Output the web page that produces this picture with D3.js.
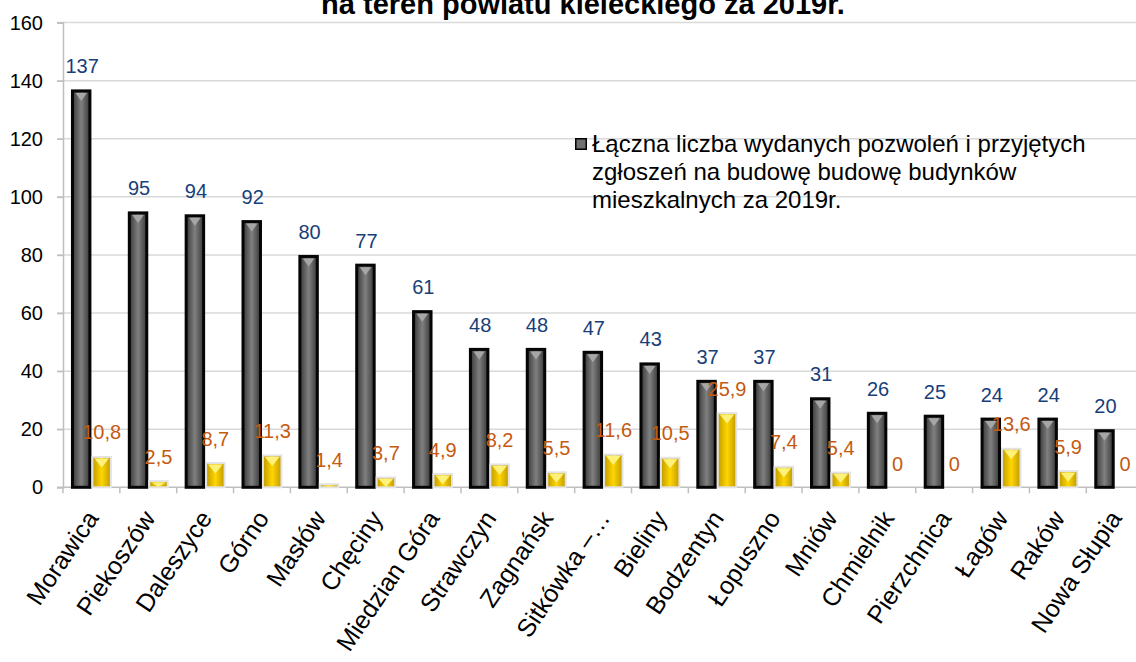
<!DOCTYPE html>
<html>
<head>
<meta charset="utf-8">
<script src="https://cdn.jsdelivr.net/npm/d3@7"></script>
<style>
  body { margin: 0; background: #fff; }
  svg { display: block; font-family: "Liberation Sans", Arial, sans-serif; }
</style>
</head>
<body>
<svg width="1136" height="662"></svg>
<script>
let categories = ["Morawica", "Piekoszów", "Daleszyce", "Górno", "Masłów", "Chęciny",
	"Miedzian Góra", "Strawczyn", "Zagnańsk", "Sitkówka –…", "Bieliny", "Bodzentyn",
	"Łopuszno", "Mniów", "Chmielnik", "Pierzchnica", "Łagów", "Raków", "Nowa Słupia"];
let totals = [137, 95, 94, 92, 80, 77, 61, 48, 48, 47, 43, 37, 37, 31, 26, 25, 24, 24, 20];
let ratios = [10.8, 2.5, 8.7, 11.3, 1.4, 3.7, 4.9, 8.2, 5.5, 11.6, 10.5, 25.9, 7.4, 5.4, 0, 0, 13.6, 5.9, 0];
let yTicks = [0, 20, 40, 60, 80, 100, 120, 140, 160];
let legendLines = ["Łączna liczba wydanych pozwoleń i przyjętych",
	"zgłoszeń na budowę budowę budynków",
	"mieszkalnych za 2019r."];
let titleText = "na teren powiatu kieleckiego za 2019r.";

let data = categories.map((c, i) => ({name: c, total: totals[i], ratio: ratios[i]}));

let svg = d3.select("svg");
let plotLeft = 63, step = 56.85, plotTop = 22.6, plotBottom = 487.3;

let x = d3.scaleBand()
	.domain(categories)
	.range([plotLeft, plotLeft + step * categories.length])
	.paddingInner(0.28)
	.paddingOuter(0.14);

let xs = d3.scaleBand()
	.domain(["total", "ratio"])
	.range([0, x.bandwidth()]);

let y = d3.scaleLinear()
	.domain([0, 160])
	.range([plotBottom, plotTop]);

// gradients
let defs = svg.append("defs");
let g1 = defs.append("linearGradient").attr("id", "darkGrad");
g1.append("stop").attr("offset", "0%").attr("stop-color", "#383838");
g1.append("stop").attr("offset", "50%").attr("stop-color", "#808080");
g1.append("stop").attr("offset", "100%").attr("stop-color", "#383838");
let g2 = defs.append("linearGradient").attr("id", "goldGrad");
g2.append("stop").attr("offset", "0%").attr("stop-color", "#c09a00");
g2.append("stop").attr("offset", "50%").attr("stop-color", "#ffd600");
g2.append("stop").attr("offset", "100%").attr("stop-color", "#c09a00");

// title (upper line cut off by the frame, as in the source)
svg.append("text")
	.attr("x", 583).attr("y", 14)
	.attr("text-anchor", "middle")
	.attr("font-size", 29).attr("font-weight", "bold")
	.text(titleText);

// gridlines
svg.append("g")
	.selectAll("line").data(yTicks).enter().append("line")
	.attr("x1", plotLeft - 6).attr("x2", 1136)
	.attr("y1", d => y(d)).attr("y2", d => y(d))
	.attr("stroke", d => d === 0 ? "#bfbfbf" : "#d9d9d9")
	.attr("stroke-width", 1.5);

// y axis
let yAxis = g => g
	.attr("transform", `translate(${plotLeft},0)`)
	.call(d3.axisLeft(y).tickValues(yTicks).tickSize(6).tickPadding(14))
	.call(g => g.selectAll("line, .domain").attr("stroke", "#bfbfbf").attr("stroke-width", 1.5))
	.call(g => g.selectAll("text").attr("font-size", 20).attr("fill", "#000")
		.attr("font-family", "Liberation Sans, Arial, sans-serif"));
svg.append("g").call(yAxis);

// category boundary ticks
svg.append("g")
	.selectAll("line").data(d3.range(categories.length + 1)).enter().append("line")
	.attr("x1", i => plotLeft + i * step).attr("x2", i => plotLeft + i * step)
	.attr("y1", plotBottom).attr("y2", plotBottom + 6)
	.attr("stroke", "#bfbfbf").attr("stroke-width", 1.5);

// category labels
svg.append("g")
	.selectAll("text").data(data).enter().append("text")
	.attr("transform", d => `translate(${x(d.name) + x.bandwidth() / 2 + 8},${plotBottom + 31}) rotate(-56)`)
	.attr("text-anchor", "end")
	.attr("font-size", 25)
	.text(d => d.name);

// dark bars
let bevel = (bx, by, bw, bh, h) => {
	let d = Math.min(h, bh);
	return `M${bx},${by}L${bx + bw},${by}L${bx + bw / 2},${by + d}Z`;
};

let dark = svg.append("g").selectAll("g").data(data).enter().append("g");
dark.append("rect")
	.attr("x", d => x(d.name) + xs("total") + 1.5)
	.attr("y", d => y(d.total) + 1.5)
	.attr("width", xs.bandwidth() - 3)
	.attr("height", d => y(0) - y(d.total) - 1.5)
	.attr("fill", "url(#darkGrad)")
	.attr("stroke", "#050505").attr("stroke-width", 3);
dark.append("path")
	.attr("d", d => bevel(x(d.name) + xs("total") + 4.5, y(d.total) + 3.5, xs.bandwidth() - 9, 8, y(0) - y(d.total) - 4))
	.attr("fill", "#a6a6a6");

// gold bars
let gold = svg.append("g").selectAll("g").data(data.filter(d => d.ratio > 0)).enter().append("g");
gold.append("rect")
	.attr("x", d => x(d.name) + xs("ratio") + 1)
	.attr("y", d => y(d.ratio) + 1)
	.attr("width", xs.bandwidth() - 2)
	.attr("height", d => y(0) - y(d.ratio) - 1)
	.attr("fill", "url(#goldGrad)")
	.attr("stroke", "#e3e3e3").attr("stroke-width", 2);
gold.append("path")
	.attr("d", d => bevel(x(d.name) + xs("ratio") + 3, y(d.ratio) + 2.5, xs.bandwidth() - 6, 9, y(0) - y(d.ratio) - 3))
	.attr("fill", "#fff27a");

// value labels
svg.append("g")
	.selectAll("text").data(data).enter().append("text")
	.attr("x", d => x(d.name) + xs("total") + xs.bandwidth() / 2 + 1)
	.attr("y", d => y(d.total) - 16)
	.attr("text-anchor", "middle")
	.attr("font-size", 20).attr("fill", "#17407a")
	.text(d => d.total);

svg.append("g")
	.selectAll("text").data(data).enter().append("text")
	.attr("x", d => x(d.name) + xs("ratio") + xs.bandwidth() / 2)
	.attr("y", d => y(d.ratio) - 16.5)
	.attr("text-anchor", "middle")
	.attr("font-size", 20).attr("fill", "#c55a11")
	.text(d => String(d.ratio).replace(".", ","));

// legend
let legend = svg.append("g").attr("transform", "translate(575,0)");
legend.append("rect")
	.attr("x", 0.75).attr("y", 138.75).attr("width", 10.5).attr("height", 10.5)
	.attr("fill", "#707070").attr("stroke", "#000").attr("stroke-width", 1.5);
legend.selectAll("text").data(legendLines).enter().append("text")
	.attr("x", 17).attr("y", (d, i) => 152 + i * 28)
	.attr("font-size", 24).attr("fill", "#000")
	.text(d => d);
</script>
</body>
</html>
